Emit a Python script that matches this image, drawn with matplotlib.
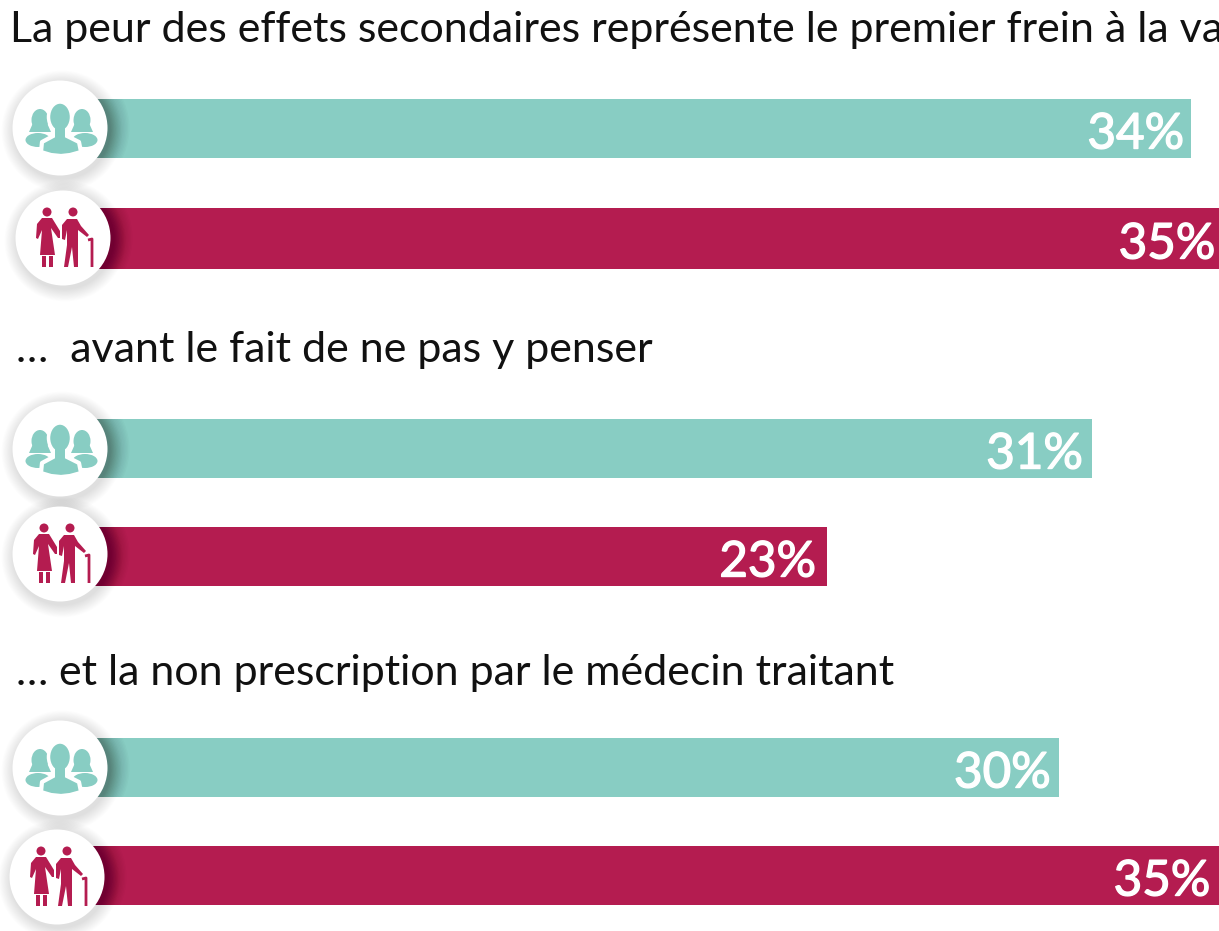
import matplotlib
matplotlib.use('Agg')
import matplotlib.pyplot as plt
import matplotlib.patheffects as pe
from matplotlib.patches import Circle, Ellipse, Polygon, Rectangle

plt.rcParams['font.family'] = ['Lato', 'DejaVu Sans']

# valeurs (le titre est coupé à droite dans l'original)
headings = ['La peur des effets secondaires représente le premier frein à la va',
            '…  avant le fait de ne pas y penser',
            '…\u2009\u2009et la non prescription par le médecin traitant']
adults = [34, 31, 30]
seniors = [35, 23, 35]
values = [adults[0], seniors[0], adults[1], seniors[1], adults[2], seniors[2]]

TEAL = '#88cdc3'
RED = '#b41c50'

# position en pixels de chaque ligne
bar_y = [128.5, 238.5, 448.5, 556.5, 767.5, 875.5]
bar_h = [59, 61, 59, 59, 59, 59]
icon_x = [60, 63, 60, 60, 60, 57]
icon_y = [128, 238, 449, 554, 768, 877]
label_pad = [7, 9, 9, 11, 8, 14]
head_x = [10, 16, 16]
head_y = [42, 362, 685]
colors = [TEAL, RED, TEAL, RED, TEAL, RED]

W, H = 1219, 931
fig = plt.figure(figsize=(W / 100, H / 100), dpi=100)

# axe des barres : x en %, y en pixels
ax = fig.add_axes([0, 0, 1, 1])
ax.set_xlim(-1.985, 34.845)
ax.set_ylim(H, 0)
ax.axis('off')
bars = ax.barh(bar_y, values, height=bar_h, color=colors, linewidth=0)
for v, y, pad in zip(values, bar_y, label_pad):
    t = ax.annotate(f'{v}%', (v, y + 2), xytext=(-pad * 0.72, 0), textcoords='offset points',
                    ha='right', va='center_baseline', color='white', fontsize=35.5,
                    annotation_clip=False)
    t.set_path_effects([pe.withStroke(linewidth=1.0, foreground='white')])

# axe superposé en pixels pour les pictos
ov = fig.add_axes([0, 0, 1, 1], zorder=3)
ov.set_xlim(0, W)
ov.set_ylim(H, 0)
ov.axis('off')
ov.patch.set_alpha(0)


def shadow(cx, cy, bar, r=47.5):
    for i in range(16):
        ov.add_patch(Circle((cx + 2, cy + 3), r + 13 - i * 0.8, color='black', alpha=0.007, lw=0))
    # ombre plus marquée sur la barre
    for i in range(14):
        p = Circle((cx + 2, cy), r + 20 - i * 1.4, color='black', alpha=0.016, lw=0)
        ov.add_patch(p)
        p.set_clip_path(bar)
    ov.add_patch(Circle((cx, cy), r, color='white', lw=0))


def draw_people(cx, cy, c):
    for hx, bx in [(cx - 20, cx - 22), (cx + 22, cx + 25)]:
        ov.add_patch(Ellipse((hx, cy - 8), 17, 22, color=c, lw=0))
        ov.add_patch(Polygon([(hx - 7, cy - 5), (hx - 11, cy + 4), (hx + 11, cy + 4), (hx + 7, cy - 5)], color=c, lw=0))
        ov.add_patch(Ellipse((bx, cy + 12), 25, 14, color=c, lw=0))
    # homme au centre, détouré en blanc
    body = [(cx - 19, cy + 24), (cx - 18, cy + 14), (cx - 5, cy + 7), (cx + 5, cy + 7),
            (cx + 19, cy + 14), (cx + 21, cy + 24), (cx + 10, cy + 27), (cx + 1, cy + 28), (cx - 9, cy + 27)]
    ov.add_patch(Polygon(body, facecolor=c, edgecolor='white', lw=3.0, joinstyle='round'))
    ov.add_patch(Ellipse((cx, cy - 11), 23, 30, facecolor=c, edgecolor='white', lw=2.5))
    ov.add_patch(Rectangle((cx - 5, cy - 2), 10, 12, color=c, lw=0))


def draw_couple(cx, cy, c):
    # femme
    ov.add_patch(Circle((cx - 16, cy - 26), 4.5, color=c, lw=0))
    ov.add_patch(Polygon([(cx - 21, cy - 20), (cx - 11, cy - 20), (cx - 3, cy - 7), (cx - 3, cy), (cx - 5, cy),
                          (cx - 12, cy - 10), (cx - 8, cy + 17), (cx - 23, cy + 17), (cx - 21, cy - 8),
                          (cx - 25, cy + 1), (cx - 27, cy), (cx - 26, cy - 14)], color=c, lw=0))
    ov.add_patch(Rectangle((cx - 21, cy + 18), 4, 11, color=c, lw=0))
    ov.add_patch(Rectangle((cx - 14, cy + 18), 4, 11, color=c, lw=0))
    # homme
    ov.add_patch(Circle((cx + 10, cy - 26), 4.5, color=c, lw=0))
    ov.add_patch(Polygon([(cx + 4, cy - 19), (cx + 14, cy - 19), (cx + 18, cy - 12), (cx + 26, cy - 3), (cx + 24, cy - 1),
                          (cx + 15, cy - 8), (cx + 15, cy + 29), (cx + 11, cy + 29), (cx + 9, cy + 9), (cx + 5, cy + 29),
                          (cx + 1, cy + 29), (cx + 4, cy + 7), (cx + 4, cy - 8), (cx + 2, cy + 2), (cx - 1, cy + 1), (cx - 1, cy - 13)],
                         color=c, lw=0))
    # canne
    ov.plot([cx + 25, cx + 29, cx + 29], [cy + 2, cy + 1, cy + 29], color=c, lw=2.0, solid_capstyle='butt')


for i in range(6):
    shadow(icon_x[i], icon_y[i], bars[i])
    if i % 2 == 0:
        draw_people(icon_x[i], icon_y[i], TEAL)
    else:
        draw_couple(icon_x[i], icon_y[i], RED)

for txt, x, y in zip(headings, head_x, head_y):
    ov.text(x, y, txt, fontsize=31, color='#111111', ha='left', va='baseline')

fig.savefig('out.png', dpi=100)
